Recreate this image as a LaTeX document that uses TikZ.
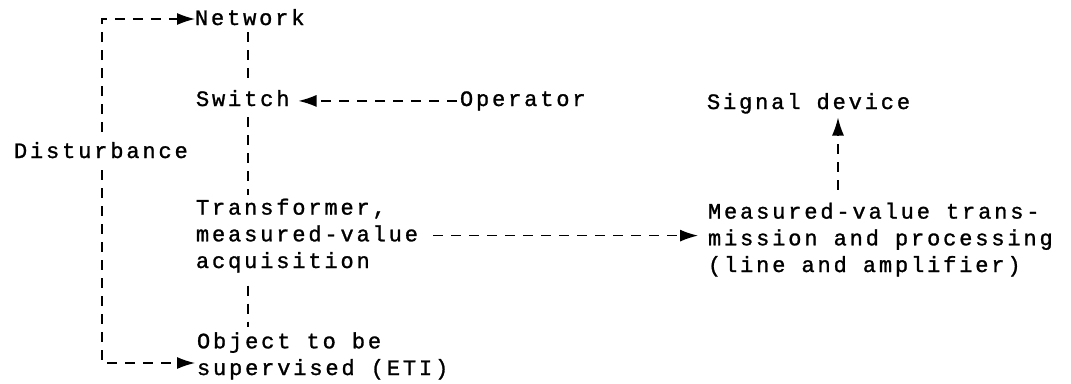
\documentclass[tikz,border=0pt]{standalone}
\usepackage{fontspec}
\setmainfont{Liberation Mono}[LetterSpace=13,FakeBold=1.2]
\usetikzlibrary{arrows.meta}
\begin{document}
\begin{tikzpicture}[x=1pt,y=-1pt,
  lbl/.style={inner sep=0pt,outer sep=0pt,anchor=base west,align=left,
    font=\fontsize{22}{26.7}\selectfont},
  conn/.style={line width=1.3pt,dash pattern=on 10pt off 8pt},
  arr/.style={conn,-{Latex[length=18pt,width=12pt]}}]
\useasboundingbox (0,0) rectangle (1071,383);
\node[lbl] (net) at (195,25) {Network};
\node[lbl] (sw) at (196,106) {Switch};
\node[lbl] (op) at (460,106) {Operator};
\node[lbl] (sig) at (707,109) {Signal device};
\node[lbl] (dist) at (14,158) {Disturbance};
\node[lbl] (tr) at (196,268) {Transformer,\\measured-value\\acquisition};
\node[lbl] (mv) at (708,272) {Measured-value trans-\\mission and processing\\(line and amplifier)};
\node[lbl] (obj) at (197,375) {Object to be\\supervised (ETI)};
\coordinate (spine) at (248,0);
\coordinate (sigx) at (838,0);
\coordinate (tl) at (102,19);
\coordinate (bl) at (102,363);
% disturbance loop
\draw[arr] ([yshift=10pt]dist.north -| tl) -- (tl) -- (tl -| net.west);
\draw[arr] ([yshift=-12pt]dist.south -| bl) -- (bl) -- ([xshift=-2pt]bl -| obj.west);
% spine
\draw[conn,shorten <=7pt,shorten >=9pt] (net.south -| spine) -- (sw.north -| spine);
\draw[conn,shorten <=11pt,shorten >=4pt] (sw.south -| spine) -- (tr.north -| spine);
\draw[conn,shorten <=13pt,shorten >=5pt] (tr.south -| spine) -- (obj.north -| spine);
% operator to switch
\draw[arr] ([xshift=-3pt]op.west) -- ([xshift=9pt]op.west -| sw.east);
% transformer to measured-value
\draw[arr,shorten <=15pt,shorten >=10pt] (tr.east) -- (mv.west |- tr.east);
% measured-value to signal device
\draw[arr,shorten <=13pt,shorten >=4pt] (mv.north -| sigx) -- (sig.south -| sigx);
\end{tikzpicture}
\end{document}
